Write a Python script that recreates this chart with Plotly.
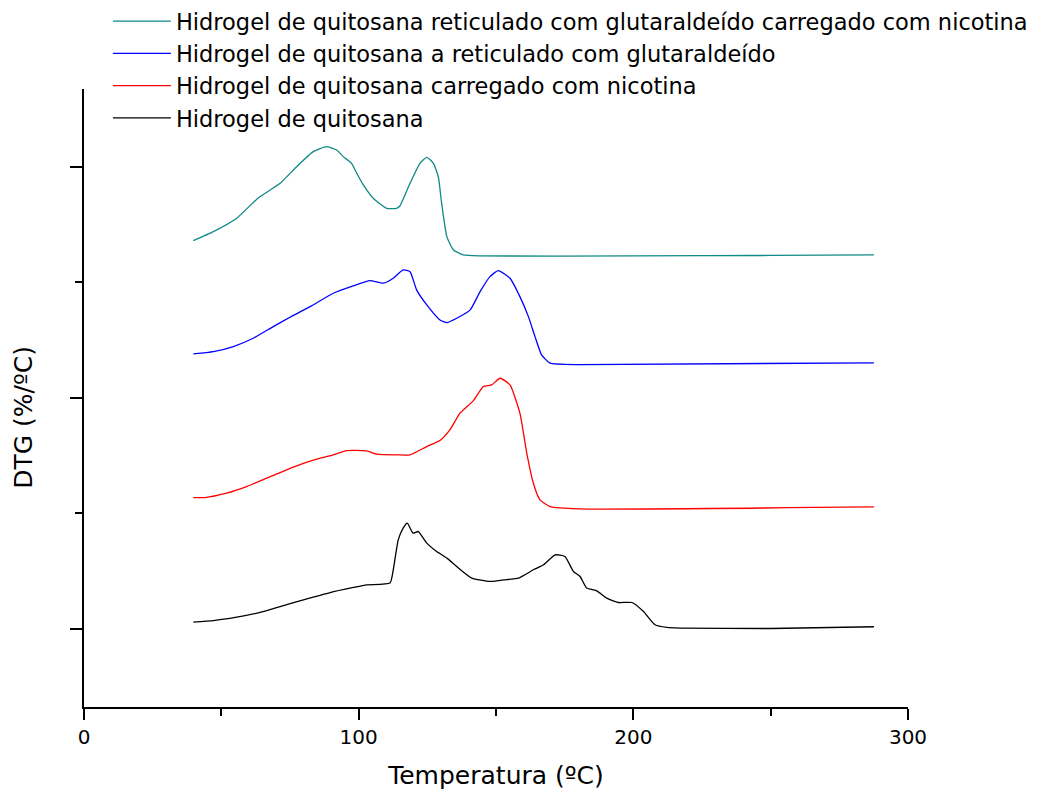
import plotly.graph_objects as go

# Temperatures (ºC) and DTG values (arbitrary offset units)
x_gn = [39.8, 47.1, 55.6, 63.3, 71.4, 77.4, 83.5, 88.4, 92.0, 94.4, 97.4, 99.3, 101.7, 105.3,
        110.2, 113.8, 115.0, 118.7, 122.3, 124.8, 127.2, 129.0, 130.2, 132.1, 134.5, 138.1,
        144.2, 200.0, 250.0, 287.6]
y_gn = [3.360, 3.438, 3.554, 3.727, 3.856, 4.000, 4.130, 4.173, 4.144, 4.087, 4.029, 3.943,
        3.842, 3.727, 3.640, 3.640, 3.660, 3.856, 4.029, 4.081, 4.029, 3.913, 3.684, 3.395,
        3.280, 3.237, 3.228, 3.228, 3.232, 3.237]

x_g = [39.8, 47.1, 54.4, 61.6, 68.9, 75.0, 82.3, 90.8, 98.0, 104.1, 109.0, 112.6, 116.2, 118.7,
       121.1, 124.8, 129.6, 132.1, 135.7, 140.6, 144.2, 147.8, 150.8, 155.1, 158.7, 161.8,
       164.2, 166.6, 169.7, 180.6, 287.6]
y_g = [2.380, 2.400, 2.444, 2.516, 2.617, 2.698, 2.789, 2.905, 2.968, 3.014, 2.992, 3.035,
       3.107, 3.092, 2.934, 2.804, 2.674, 2.651, 2.689, 2.761, 2.919, 3.049, 3.101, 3.035,
       2.876, 2.703, 2.530, 2.372, 2.300, 2.288, 2.303]

x_n = [39.8, 44.0, 51.9, 59.2, 66.5, 71.4, 77.4, 84.7, 90.8, 95.6, 102.9, 106.6, 113.8, 118.7,
       124.8, 129.6, 133.2, 136.9, 141.7, 145.4, 148.4, 151.5, 155.1, 158.7, 161.2, 163.6,
       166.0, 169.7, 180.6, 287.6]
y_n = [1.138, 1.138, 1.176, 1.233, 1.306, 1.354, 1.412, 1.470, 1.507, 1.544, 1.542, 1.513,
       1.507, 1.507, 1.579, 1.631, 1.723, 1.868, 1.974, 2.098, 2.112, 2.170, 2.112, 1.868,
       1.522, 1.262, 1.118, 1.060, 1.040, 1.057]

x_h = [39.8, 47.1, 55.6, 64.1, 71.4, 79.9, 89.6, 98.1, 102.9, 111.4, 112.6, 114.4, 116.2, 117.7,
       119.8, 121.7, 124.8, 128.4, 132.1, 135.7, 141.2, 147.8, 152.7, 158.2, 163.6, 167.3,
       171.5, 175.1, 178.2, 180.6, 183.0, 186.7, 190.3, 194.6, 199.5, 203.7, 207.9, 212.2,
       217.0, 250.0, 287.6]
y_h = [0.061, 0.074, 0.104, 0.144, 0.195, 0.253, 0.316, 0.360, 0.383, 0.398, 0.513, 0.772,
       0.873, 0.917, 0.830, 0.844, 0.744, 0.671, 0.614, 0.541, 0.441, 0.412, 0.426, 0.441,
       0.513, 0.556, 0.642, 0.628, 0.498, 0.455, 0.355, 0.331, 0.268, 0.230, 0.230, 0.152,
       0.037, 0.014, 0.009, 0.005, 0.020]

names = ["Hidrogel de quitosana reticulado com glutaraldeído carregado com nicotina",
         "Hidrogel de quitosana a reticulado com glutaraldeído",
         "Hidrogel de quitosana carregado com nicotina",
         "Hidrogel de quitosana"]
colors = ["#0f8a86", "#0000ff", "#ff0000", "#000000"]
xs = [x_gn, x_g, x_n, x_h]
ys = [y_gn, y_g, y_n, y_h]

x_ticks = [0, 100, 200, 300]
y_major = [0, 2, 4]

FONT = "DejaVu Sans"

fig = go.Figure()
for xv, yv, nm, c in zip(xs, ys, names, colors):
    fig.add_trace(go.Scatter(x=xv, y=yv, mode="lines", name=nm,
                             line=dict(color=c, width=1.3, shape="spline", smoothing=0.5)))

fig.update_layout(
    width=1045, height=798,
    paper_bgcolor="white", plot_bgcolor="white",
    margin=dict(l=84, r=137, t=89, b=91, autoexpand=False),
    font=dict(family=FONT, color="black"),
    showlegend=True,
    legend=dict(x=0.029, y=1.144, xanchor="left", yanchor="top", itemwidth=58,
                font=dict(family=FONT, size=22.5, color="black"),
                bgcolor="rgba(0,0,0,0)", borderwidth=0, tracegroupgap=0),
    xaxis=dict(range=[0, 300], tickvals=x_ticks, ticktext=[str(v) for v in x_ticks],
               showline=True, linecolor="black", linewidth=2, zeroline=False, showgrid=False,
               ticks="outside", ticklen=11, tickwidth=2, tickcolor="black",
               tickfont=dict(family=FONT, size=20, color="black"),
               minor=dict(dtick=50, tick0=0, ticks="outside", ticklen=7, tickwidth=2,
                          tickcolor="black", showgrid=False),
               title=dict(text="Temperatura (ºC)", font=dict(family=FONT, size=25, color="black"),
                          standoff=18)),
    yaxis=dict(range=[-0.674, 4.672], tickvals=y_major, showticklabels=False,
               showline=True, linecolor="black", linewidth=2, zeroline=False, showgrid=False,
               ticks="outside", ticklen=12, tickwidth=2, tickcolor="black",
               minor=dict(dtick=1, tick0=0, ticks="outside", ticklen=7, tickwidth=2,
                          tickcolor="black", showgrid=False)),
    annotations=[dict(text="DTG (%/ºC)", textangle=-90, xref="paper", yref="paper",
                      x=-0.0728, y=0.468, xanchor="center", yanchor="middle", showarrow=False,
                      font=dict(family=FONT, size=25, color="black"))],
)

fig.write_html("out.html")
